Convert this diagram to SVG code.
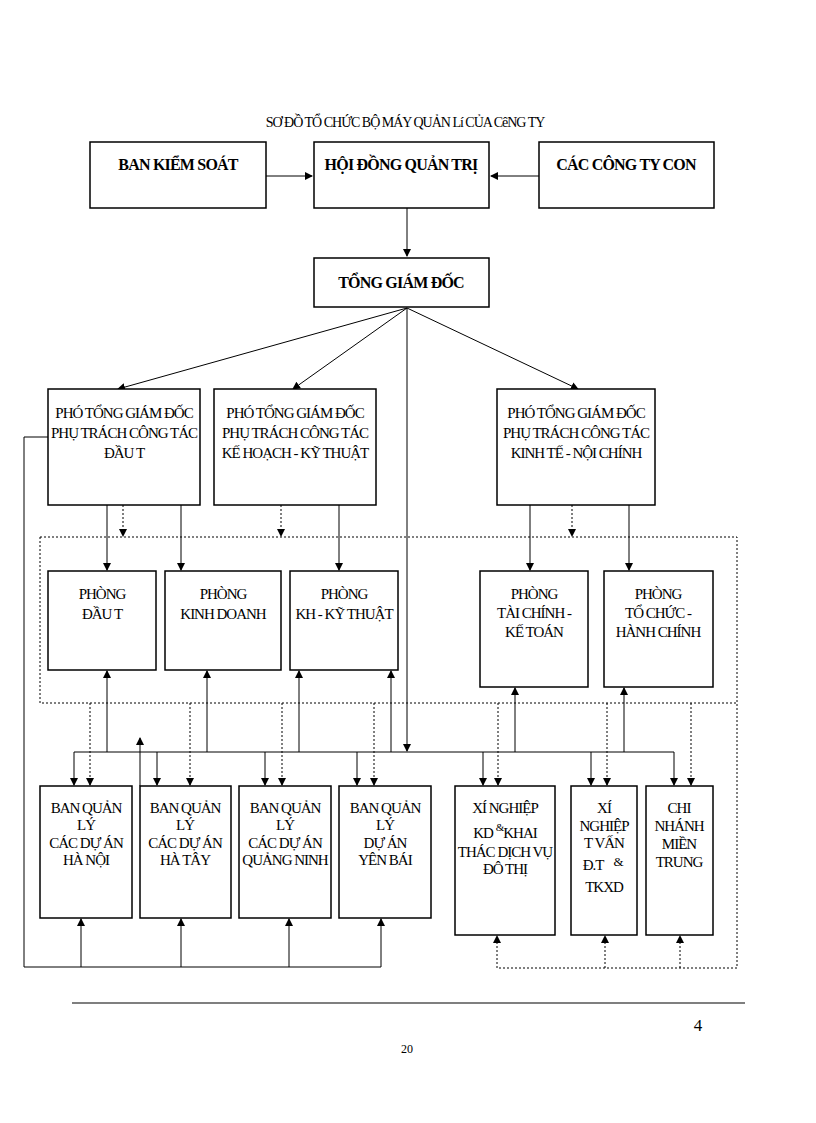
<svg xmlns="http://www.w3.org/2000/svg" width="816" height="1123" viewBox="0 0 816 1123">
<defs>
<marker id="a" markerWidth="8" markerHeight="8" refX="7" refY="4" orient="auto" markerUnits="userSpaceOnUse"><path d="M0,0 L8,4 L0,8 z" fill="#000"/></marker>
<style>
.b{fill:#fff;stroke:#000;stroke-width:1.5}
.t{font-family:"Liberation Serif",serif;font-size:15px;text-anchor:middle;letter-spacing:-1px}
.tb{font-family:"Liberation Serif",serif;font-size:16px;font-weight:bold;text-anchor:middle;letter-spacing:-0.8px}
.s{stroke:#000;stroke-width:1;fill:none}
.d{stroke:#000;stroke-width:1;fill:none;stroke-dasharray:2,2}
</style>
</defs>
<rect width="816" height="1123" fill="#fff"/>
<text x="405" y="127" class="t" style="font-size:14px">SƠ ĐỒ TỔ CHỨC BỘ MÁY QUẢN Lí CỦA CêNG TY</text>
<g id="connectors">
<path class="s" d="M266,176 H312" marker-end="url(#a)"/>
<path class="s" d="M539,176 H491" marker-end="url(#a)"/>
<path class="s" d="M407,208 V256" marker-end="url(#a)"/>
<path class="s" d="M407,308 L118,389" marker-end="url(#a)"/>
<path class="s" d="M407,308 L293,389" marker-end="url(#a)"/>
<path class="s" d="M407,308 L578,389" marker-end="url(#a)"/>
<path class="s" d="M407,308 V751" marker-end="url(#a)"/>
<path class="s" d="M107,505 V570" marker-end="url(#a)"/>
<path class="s" d="M181,505 V570" marker-end="url(#a)"/>
<path class="s" d="M339,505 V570" marker-end="url(#a)"/>
<path class="s" d="M530,505 V570" marker-end="url(#a)"/>
<path class="s" d="M629,505 V570" marker-end="url(#a)"/>
<path class="d" d="M123,505 V536" marker-end="url(#a)"/>
<path class="d" d="M281,505 V536" marker-end="url(#a)"/>
<path class="d" d="M572,505 V536" marker-end="url(#a)"/>
<path class="d" d="M40,537 H737 V968 H497"/>
<path class="d" d="M40,537 V703 H737"/>
<path class="s" d="M74,752 H674"/>
<path class="s" d="M74,752 V785" marker-end="url(#a)"/>
<path class="s" d="M157,752 V785" marker-end="url(#a)"/>
<path class="s" d="M265,752 V785" marker-end="url(#a)"/>
<path class="s" d="M357,752 V785" marker-end="url(#a)"/>
<path class="s" d="M483,752 V785" marker-end="url(#a)"/>
<path class="s" d="M591,752 V785" marker-end="url(#a)"/>
<path class="s" d="M674,752 V785" marker-end="url(#a)"/>
<path class="d" d="M90,703 V785" marker-end="url(#a)"/>
<path class="d" d="M190,703 V785" marker-end="url(#a)"/>
<path class="d" d="M282,703 V785" marker-end="url(#a)"/>
<path class="d" d="M374,703 V785" marker-end="url(#a)"/>
<path class="d" d="M498,703 V785" marker-end="url(#a)"/>
<path class="d" d="M607,703 V785" marker-end="url(#a)"/>
<path class="d" d="M691,703 V785" marker-end="url(#a)"/>
<path class="s" d="M107,752 V671" marker-end="url(#a)"/>
<path class="s" d="M207,752 V671" marker-end="url(#a)"/>
<path class="s" d="M299,752 V671" marker-end="url(#a)"/>
<path class="s" d="M391,752 V671" marker-end="url(#a)"/>
<path class="s" d="M515,752 V688" marker-end="url(#a)"/>
<path class="s" d="M624,752 V688" marker-end="url(#a)"/>
<path class="s" d="M140,786 V738" marker-end="url(#a)"/>
<path class="s" d="M48,437 H24 V967 H381"/>
<path class="s" d="M81,967 V919" marker-end="url(#a)"/>
<path class="s" d="M181,967 V919" marker-end="url(#a)"/>
<path class="s" d="M289,967 V919" marker-end="url(#a)"/>
<path class="s" d="M381,967 V919" marker-end="url(#a)"/>
<path class="d" d="M497,968 V936" marker-end="url(#a)"/>
<path class="d" d="M605,968 V936" marker-end="url(#a)"/>
<path class="d" d="M680,968 V936" marker-end="url(#a)"/>
</g>
<g id="bks"><rect class="b" x="90" y="142" width="176" height="66"/><text class="tb" x="178" y="170">BAN KIỂM SOÁT</text></g>
<g id="hdqt"><rect class="b" x="314" y="142" width="175" height="66"/><text class="tb" x="401" y="170">HỘI ĐỒNG QUẢN TRỊ</text></g>
<g id="ctcon"><rect class="b" x="539" y="142" width="175" height="66"/><text class="tb" x="626" y="170">CÁC CÔNG TY CON</text></g>
<g id="tgd"><rect class="b" x="314" y="258" width="175" height="49"/><text class="tb" x="401" y="288">TỔNG GIÁM ĐỐC</text></g>
<g id="ptgd1"><rect class="b" x="48" y="389" width="152" height="116"/><text class="t" x="124" y="418">PHÓ TỔNG GIÁM ĐỐC</text><text class="t" x="124" y="438">PHỤ TRÁCH CÔNG TÁC</text><text class="t" x="124" y="458">ĐẦU T</text></g>
<g id="ptgd2"><rect class="b" x="214" y="389" width="162" height="116"/><text class="t" x="295" y="418">PHÓ TỔNG GIÁM ĐỐC</text><text class="t" x="295" y="438">PHỤ TRÁCH CÔNG TÁC</text><text class="t" x="295" y="458">KẾ HOẠCH - KỸ THUẬT</text></g>
<g id="ptgd3"><rect class="b" x="497" y="389" width="158" height="116"/><text class="t" x="576" y="418">PHÓ TỔNG GIÁM ĐỐC</text><text class="t" x="576" y="438">PHỤ TRÁCH CÔNG TÁC</text><text class="t" x="576" y="458">KINH TẾ - NỘI CHÍNH</text></g>
<g id="pdt"><rect class="b" x="48" y="571" width="108" height="99"/><text class="t" x="102" y="599">PHÒNG</text><text class="t" x="102" y="619">ĐẦU T</text></g>
<g id="pkd"><rect class="b" x="165" y="571" width="116" height="99"/><text class="t" x="223" y="599">PHÒNG</text><text class="t" x="223" y="619">KINH DOANH</text></g>
<g id="pkt"><rect class="b" x="290" y="571" width="108" height="99"/><text class="t" x="344" y="599">PHÒNG</text><text class="t" x="344" y="619">KH - KỸ THUẬT</text></g>
<g id="ptc"><rect class="b" x="480" y="571" width="108" height="116"/><text class="t" x="534" y="599">PHÒNG</text><text class="t" x="534" y="618">TÀI CHÍNH -</text><text class="t" x="534" y="637">KẾ TOÁN</text></g>
<g id="ptchc"><rect class="b" x="604" y="571" width="109" height="116"/><text class="t" x="658" y="599">PHÒNG</text><text class="t" x="658" y="618">TỔ CHỨC -</text><text class="t" x="658" y="637">HÀNH CHÍNH</text></g>
<g id="bqlhn"><rect class="b" x="40" y="786" width="92" height="132"/><text class="t" x="86" y="813">BAN QUẢN</text><text class="t" x="86" y="830">LÝ</text><text class="t" x="86" y="848">CÁC DỰ ÁN</text><text class="t" x="86" y="865">HÀ NỘI</text></g>
<g id="bqlht"><rect class="b" x="140" y="786" width="91" height="132"/><text class="t" x="185" y="813">BAN QUẢN</text><text class="t" x="185" y="830">LÝ</text><text class="t" x="185" y="848">CÁC DỰ ÁN</text><text class="t" x="185" y="865">HÀ TÂY</text></g>
<g id="bqlqn"><rect class="b" x="239" y="786" width="92" height="132"/><text class="t" x="285" y="813">BAN QUẢN</text><text class="t" x="285" y="830">LÝ</text><text class="t" x="285" y="848">CÁC DỰ ÁN</text><text class="t" x="285" y="865">QUẢNG NINH</text></g>
<g id="bqlyb"><rect class="b" x="339" y="786" width="92" height="132"/><text class="t" x="385" y="813">BAN QUẢN</text><text class="t" x="385" y="830">LÝ</text><text class="t" x="385" y="848">DỰ ÁN</text><text class="t" x="385" y="865">YÊN BÁI</text></g>
<g id="xnkd"><rect class="b" x="455" y="786" width="100" height="149"/><text class="t" x="505" y="813">XÍ NGHIỆP</text><text class="t" x="505" y="838">KD <tspan font-size="11" dy="-7">&amp;</tspan><tspan dy="7">KHAI</tspan></text><text class="t" x="505" y="857">THÁC DỊCH VỤ</text><text class="t" x="505" y="874">ĐÔ THỊ</text></g>
<g id="xntv"><rect class="b" x="571" y="786" width="66" height="149"/><text class="t" x="604" y="813">XÍ</text><text class="t" x="604" y="831">NGHIỆP</text><text class="t" x="604" y="848">T   VẤN</text><text class="t" x="618" y="866" style="font-size:13px">&amp;</text><text class="t" x="593" y="870">Đ.T</text><text class="t" x="604" y="892">TKXD</text></g>
<g id="cnmt"><rect class="b" x="646" y="786" width="67" height="149"/><text class="t" x="679" y="813">CHI</text><text class="t" x="679" y="831">NHÁNH</text><text class="t" x="679" y="849">MIỀN</text><text class="t" x="679" y="867">TRUNG</text></g>
<path d="M72,1003 H745" stroke="#000" stroke-width="1.2"/>
<text x="698" y="1031" style="font-family:'Liberation Serif',serif;font-size:17px" text-anchor="middle">4</text>
<text x="407" y="1053" style="font-family:'Liberation Serif',serif;font-size:12px" text-anchor="middle">20</text>
</svg>
